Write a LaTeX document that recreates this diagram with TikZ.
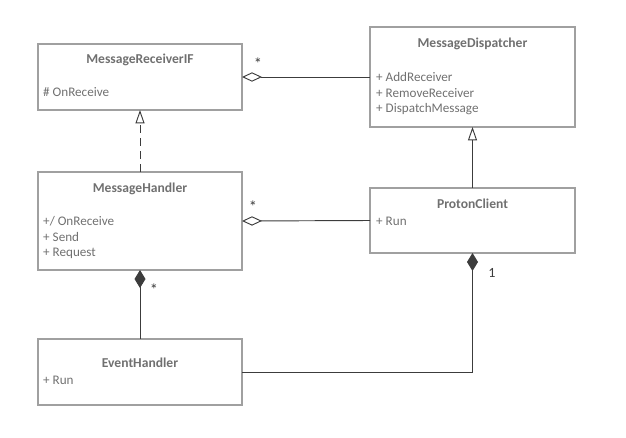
\documentclass[tikz,border=0pt]{standalone}
\usepackage{fontspec}
\setmainfont{Carlito}
\usetikzlibrary{arrows.meta}
\definecolor{boxgray}{RGB}{160,160,160}
\definecolor{textgray}{RGB}{112,112,112}
\definecolor{linegray}{RGB}{60,60,60}
\tikzset{
    cls/.style={draw=boxgray, line width=1.1pt, inner sep=0, outer sep=0},
    title/.style={text=textgray, font=\fontsize{11.6}{13}\selectfont\bfseries},
    attr/.style={text=textgray, anchor=west, inner sep=0, font=\fontsize{11.2}{13}\selectfont},
    mult/.style={text=linegray, inner sep=0, font=\fontsize{12}{13}\selectfont},
    star/.style={mult, font=\fontsize{14}{14}\selectfont},
    assoc/.style={draw=linegray, line width=.8pt},
    aggr/.style={assoc, {Diamond[open, length=6mm, width=2.8mm]}-},
    comp/.style={assoc, {Diamond[length=5.4mm, width=3.3mm]}-},
    gen/.style={assoc, -{Triangle[open, length=4mm, width=2.7mm]}},
    real/.style={gen, dash pattern=on 2.4mm off 1.5mm}
}

\begin{document}
\begin{tikzpicture}[x=.03cm, y=.03cm]
    \useasboundingbox(0, 0)rectangle(626, 437);
    \node[cls, minimum width=6.12cm, minimum height=1.98cm](mrif)at(140, 360){};
    \node[cls, minimum width=6.15cm, minimum height=3cm](md)at(472.5, 360){};
    \node[cls, minimum width=6.12cm, minimum height=2.94cm](mh)at(140, 216){};
    \node[cls, minimum width=6.15cm, minimum height=1.95cm](pc)at(472.5, 216.5){};
    \node[cls, minimum width=6.12cm, minimum height=1.98cm](eh)at(140, 65){};

    \node[title](mriftitle)at(140, 377){MessageReceiverIF};
    \node[attr](mrifa)at(43, 345){\# OnReceive};

    \node[title](mdtitle)at(472.5, 393){MessageDispatcher};
    \node[attr](mda)at(376, 360){+ AddReceiver};
    \node[attr](mdb)at(376, 344){+ RemoveReceiver};
    \node[attr](mdc)at(376, 328){+ DispatchMessage};

    \node[title](mhtitle)at(140, 248){MessageHandler};
    \node[attr](mha)at(43, 216){+/ OnReceive};
    \node[attr](mhb)at(43, 200){+ Send};
    \node[attr](mhc)at(43, 184){+ Request};

    \node[title](pctitle)at(472.5, 233){ProtonClient};
    \node[attr](pca)at(376, 216){+ Run};

    \node[title](ehtitle)at(140, 74){EventHandler};
    \node[attr](eha)at(43, 57){+ Run};

    \draw[aggr](mrif.east)--(md.west);
    \draw[aggr](mh.east)--(pc.west);
    \draw[real](mh.north)--(mrif.south);
    \draw[gen](pc.north)--(md.south);
    \draw[comp](mh.south)--(eh.north);
    \draw[comp](pc.south)|-(eh.east);

    \node[star](m1)at(258, 373){*};
    \node[star](m2)at(253, 230){*};
    \node[star](m3)at(154, 147){*};
    \node[mult](m4)at(492, 164){1};
\end{tikzpicture}
\end{document}
